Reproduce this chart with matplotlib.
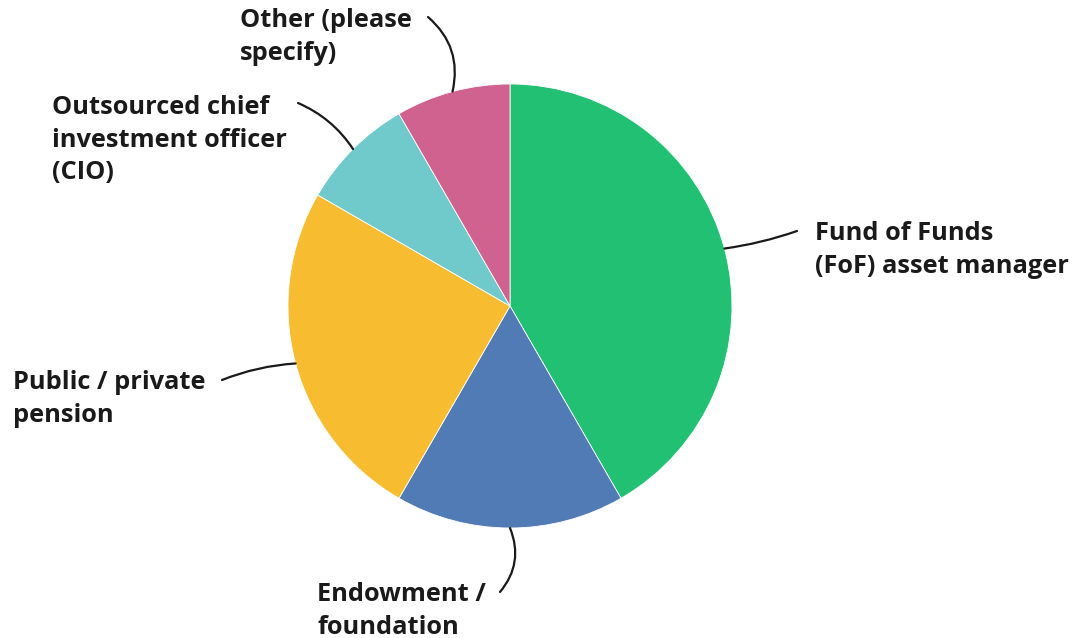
import numpy as np
import matplotlib.pyplot as plt

# Survey responses by organisation type
labels = [
    "Fund of Funds\n(FoF) asset manager",
    "Endowment /\nfoundation",
    "Public / private\npension",
    "Outsourced chief\ninvestment officer\n(CIO)",
    "Other (please\nspecify)",
]
counts = [5, 2, 3, 1, 1]
colors = ["#21C073", "#507BB5", "#F7BC30", "#70C9CB", "#D0628F"]

W, H = 1080, 638
fig = plt.figure(figsize=(W / 100, H / 100), dpi=100)
ax = fig.add_axes([0, 0, 1, 1])

cx, cy, r = 510, H - 306, 222
wedges, _ = ax.pie(counts, colors=colors, startangle=90, counterclock=False,
                   center=(cx, cy), radius=r, frame=True,
                   wedgeprops=dict(linewidth=0.6, edgecolor="white"))
ax.set_xlim(0, W)
ax.set_ylim(0, H)
ax.set_aspect("equal")
ax.axis("off")

# label top-left corner and leader line end, in pixels from the top-left
text_pos = [(815, 221), (317, 582), (13, 370), (52, 95), (240, 8)]
line_end = [(797, 231), (500, 592), (222, 380), (298, 103), (428, 17)]
curve = [-0.05, 0.3, -0.08, -0.15, -0.3]

font = dict(family=["Open Sans", "DejaVu Sans"], fontweight="bold",
            fontsize=18.3, color="#1a1a1a", linespacing=1.4)

for w, lab, tp, le, rad in zip(wedges, labels, text_pos, line_end, curve):
    ang = np.deg2rad((w.theta1 + w.theta2) / 2)
    px, py = cx + r * np.cos(ang), cy + r * np.sin(ang)
    ax.annotate("", xy=(px, py), xytext=(le[0], H - le[1]),
                arrowprops=dict(arrowstyle="-", color="#1a1a1a", lw=1.6,
                                connectionstyle=f"arc3,rad={rad}",
                                shrinkA=0, shrinkB=0))
    ax.text(tp[0], H - tp[1], lab, ha="left", va="top", **font)

fig.savefig("out.png", dpi=100)
